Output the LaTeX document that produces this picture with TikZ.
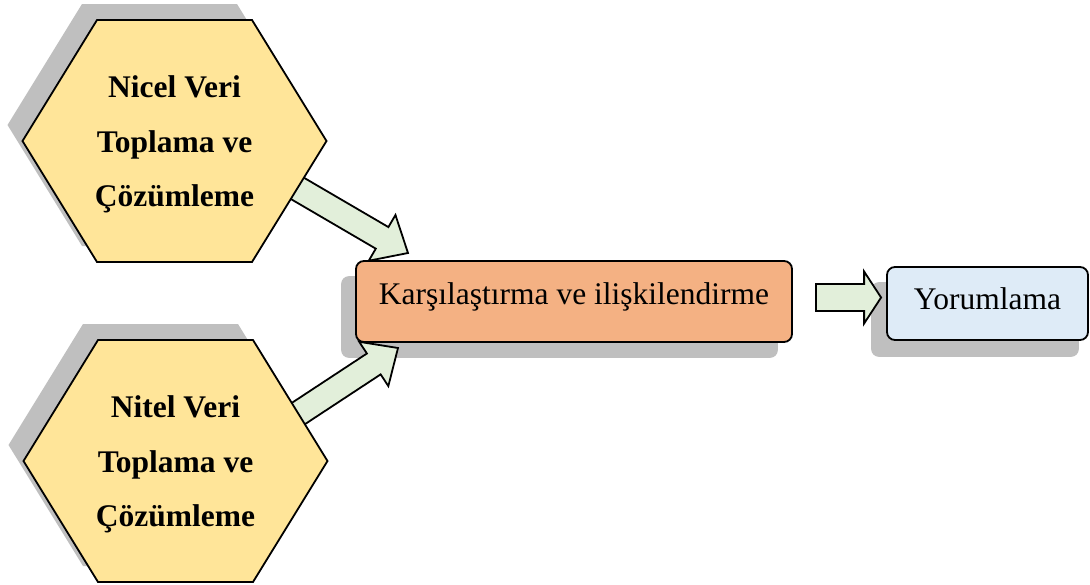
\documentclass[tikz,border=0pt]{standalone}
\usepackage{fontspec}
\setmainfont{Liberation Serif}
\usetikzlibrary{calc}

\definecolor{hexfill}{RGB}{255,229,153}
\definecolor{cmpfill}{RGB}{244,177,131}
\definecolor{yorfill}{RGB}{222,235,247}
\definecolor{arrfill}{RGB}{226,239,218}
\definecolor{shadowgray}{RGB}{191,191,191}

\pgfdeclarelayer{shadows}
\pgfdeclarelayer{arrows}
\pgfsetlayers{shadows,arrows,main}

% hexagon outline around a centre coordinate
\newcommand\hexpath[1]{($(#1)+(-152,0)$) -- ($(#1)+(-77.5,-121)$) -- ($(#1)+(77.5,-121)$) -- ($(#1)+(152,0)$) -- ($(#1)+(77.5,121)$) -- ($(#1)+(-77.5,121)$) -- cycle}

% block arrow: #1 tail, #2 tip, #3 shaft half width, #4 head half width, #5 head length
\newcommand\blockarrow[5]{%
  \coordinate (#1-hb) at ($(#2)!#5!(#1)$);
  \draw[blockarr] ($(#1)!#3!90:(#2)$) -- ($(#1-hb)!#3!90:(#2)$) -- ($(#1-hb)!#4!90:(#2)$) -- (#2)
    -- ($(#1-hb)!#4!-90:(#2)$) -- ($(#1-hb)!#3!-90:(#2)$) -- ($(#1)!#3!-90:(#2)$) -- cycle;}

\tikzset{
  hexshape/.style={draw=black, line width=1.8pt, fill=hexfill, line join=miter},
  hexshadow/.style={fill=shadowgray},
  hextext/.style={font=\bfseries\fontsize{31.5}{54.5}\selectfont, align=center, inner sep=0pt},
  stepbox/.style={draw=black, line width=1.8pt, rounded corners=8pt, inner sep=0pt,
    font=\fontsize{31.5}{36}\selectfont},
  boxshadow/.style={fill=shadowgray, rounded corners=8pt},
  blockarr/.style={draw=black, line width=1.8pt, fill=arrfill, line join=miter},
}

\begin{document}
\begin{tikzpicture}[x=1pt,y=-1pt]
\useasboundingbox (0,0) rectangle (1090,584);

% hexagon centres and their shadow centres
\coordinate (c1) at (174.5,141);
\coordinate (c2) at (175.5,461);
\coordinate (c1s) at ($(c1)+(-15,-16)$);
\coordinate (c2s) at ($(c2)+(-15,-16)$);

% hexagons with their text
\draw[hexshape] \hexpath{c1};
\draw[hexshape] \hexpath{c2};
\node[hextext] (nicel) at ($(c1)+(0,3.5)$) {Nicel Veri\\Toplama ve\\Çözümleme};
\node[hextext] (nitel) at ($(c2)+(0,3.5)$) {Nitel Veri\\Toplama ve\\Çözümleme};

% boxes
\node[stepbox, fill=cmpfill, minimum width=436pt, minimum height=81pt,
      text height=20pt, text depth=15pt] (cmp) at (574,301.5) {Karşılaştırma ve ilişkilendirme};
\node[stepbox, fill=yorfill, minimum width=201pt, minimum height=73pt,
      text height=20pt, text depth=9pt] (yor) at (987.5,303.5) {Yorumlama};

% drop shadows
\begin{pgfonlayer}{shadows}
  \fill[hexshadow] \hexpath{c1s};
  \fill[hexshadow] \hexpath{c2s};
  \fill[boxshadow] ($(cmp.north west)+(-14,16)$) rectangle ($(cmp.south east)+(-15,15)$);
  \fill[boxshadow] ($(yor.north west)+(-15,16)$) rectangle ($(yor.south east)+(-10,16)$);
\end{pgfonlayer}

% block arrows
\coordinate (a1) at (289.9,184);
\coordinate (a1tip) at (408,253);
\coordinate (a2) at (291.6,418);
\coordinate (a2tip) at (398,348);
\coordinate (a3) at ($(cmp.east)+(23,-4)$);
\coordinate (a3tip) at ($(yor.west)+(-5,-6)$);
\begin{pgfonlayer}{arrows}
  \blockarrow{a1}{a1tip}{12.5pt}{26.5pt}{30pt}
  \blockarrow{a2}{a2tip}{12.5pt}{26.5pt}{29pt}
  \blockarrow{a3}{a3tip}{13.5pt}{26pt}{17pt}
\end{pgfonlayer}
\end{tikzpicture}
\end{document}
